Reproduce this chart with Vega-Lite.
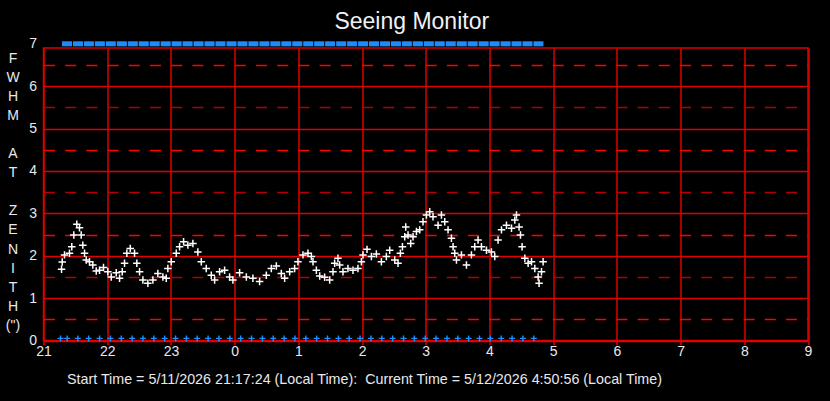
{
  "$schema": "https://vega.github.io/schema/vega-lite/v6.json",
  "autosize": {"type": "none"},
  "padding": {"left": 43.5, "top": 48, "right": 22, "bottom": 60},
  "width": 764.5,
  "height": 292.5,
  "background": "black",
  "title": {"text": "Seeing Monitor", "fontSize": 23, "font": "Liberation Sans", "fontWeight": "normal", "color": "#f0f0f4", "anchor": "middle", "frame": "group", "dx": -14, "offset": 3},
  "config": {
    "view": {"stroke": "#e00000", "strokeWidth": 1.5, "fill": "black"},
    "axis": {"labelFont": "Liberation Sans", "titleFont": "Liberation Sans", "labelColor": "#e8e8ee", "titleColor": "#e8e8ee", "labelFontSize": 14, "titleFontWeight": "normal", "ticks": false, "domain": false, "labelFlush": false, "labelOverlap": false}
  },
  "datasets": {
    "fwhm": [
      {"t":21.283,"v":1.68},{"t":21.294,"v":1.85},{"t":21.330,"v":2.02},{"t":21.408,"v":2.06},{"t":21.444,"v":2.21},{"t":21.476,"v":2.49},{"t":21.523,"v":2.74},{"t":21.565,"v":2.66},{"t":21.592,"v":2.49},{"t":21.617,"v":2.25},{"t":21.644,"v":2.06},{"t":21.671,"v":1.90},{"t":21.722,"v":1.86},{"t":21.774,"v":1.78},{"t":21.828,"v":1.64},{"t":21.880,"v":1.66},{"t":21.942,"v":1.72},{"t":22.010,"v":1.62},{"t":22.063,"v":1.50},{"t":22.142,"v":1.60},{"t":22.194,"v":1.47},{"t":22.236,"v":1.62},{"t":22.272,"v":1.82},{"t":22.308,"v":2.06},{"t":22.362,"v":2.17},{"t":22.429,"v":2.06},{"t":22.465,"v":1.82},{"t":22.508,"v":1.62},{"t":22.560,"v":1.43},{"t":22.638,"v":1.35},{"t":22.717,"v":1.43},{"t":22.795,"v":1.58},{"t":22.874,"v":1.50},{"t":22.927,"v":1.47},{"t":22.952,"v":1.70},{"t":23.006,"v":1.86},{"t":23.084,"v":2.06},{"t":23.136,"v":2.21},{"t":23.199,"v":2.33},{"t":23.266,"v":2.25},{"t":23.345,"v":2.29},{"t":23.423,"v":2.09},{"t":23.477,"v":1.86},{"t":23.555,"v":1.70},{"t":23.634,"v":1.54},{"t":23.686,"v":1.43},{"t":23.764,"v":1.62},{"t":23.843,"v":1.66},{"t":23.921,"v":1.50},{"t":23.973,"v":1.43},{"t":24.078,"v":1.60},{"t":24.184,"v":1.50},{"t":24.287,"v":1.47},{"t":24.392,"v":1.39},{"t":24.498,"v":1.54},{"t":24.576,"v":1.70},{"t":24.655,"v":1.76},{"t":24.733,"v":1.58},{"t":24.785,"v":1.47},{"t":24.864,"v":1.62},{"t":24.942,"v":1.70},{"t":24.994,"v":1.86},{"t":25.073,"v":2.02},{"t":25.151,"v":2.06},{"t":25.205,"v":1.98},{"t":25.230,"v":1.86},{"t":25.283,"v":1.66},{"t":25.335,"v":1.52},{"t":25.413,"v":1.49},{"t":25.492,"v":1.43},{"t":25.544,"v":1.62},{"t":25.570,"v":1.82},{"t":25.622,"v":1.94},{"t":25.649,"v":1.78},{"t":25.701,"v":1.62},{"t":25.779,"v":1.70},{"t":25.858,"v":1.66},{"t":25.936,"v":1.70},{"t":25.990,"v":1.86},{"t":26.015,"v":2.02},{"t":26.078,"v":2.15},{"t":26.147,"v":1.98},{"t":26.225,"v":2.04},{"t":26.304,"v":1.86},{"t":26.382,"v":1.98},{"t":26.434,"v":2.13},{"t":26.513,"v":1.90},{"t":26.565,"v":1.82},{"t":26.602,"v":2.06},{"t":26.634,"v":2.21},{"t":26.670,"v":2.45},{"t":26.686,"v":2.68},{"t":26.722,"v":2.49},{"t":26.764,"v":2.29},{"t":26.800,"v":2.45},{"t":26.854,"v":2.57},{"t":26.905,"v":2.61},{"t":26.957,"v":2.80},{"t":27.011,"v":2.96},{"t":27.063,"v":3.04},{"t":27.114,"v":2.92},{"t":27.193,"v":2.72},{"t":27.246,"v":2.96},{"t":27.298,"v":2.80},{"t":27.350,"v":2.61},{"t":27.403,"v":2.41},{"t":27.429,"v":2.21},{"t":27.455,"v":2.06},{"t":27.482,"v":1.90},{"t":27.560,"v":2.02},{"t":27.639,"v":1.78},{"t":27.717,"v":2.02},{"t":27.769,"v":2.21},{"t":27.821,"v":2.37},{"t":27.874,"v":2.21},{"t":27.953,"v":2.13},{"t":28.031,"v":2.09},{"t":28.083,"v":1.98},{"t":28.135,"v":2.37},{"t":28.189,"v":2.61},{"t":28.267,"v":2.72},{"t":28.346,"v":2.65},{"t":28.398,"v":2.84},{"t":28.424,"v":2.96},{"t":28.465,"v":2.68},{"t":28.487,"v":2.49},{"t":28.512,"v":2.21},{"t":28.555,"v":1.94},{"t":28.607,"v":1.82},{"t":28.660,"v":1.86},{"t":28.712,"v":1.70},{"t":28.764,"v":1.50},{"t":28.779,"v":1.35},{"t":28.817,"v":1.62},{"t":28.842,"v":1.86}
    ],
    "top": [
      {"t":21.369,"v":7},{"t":21.541,"v":7},{"t":21.713,"v":7},{"t":21.885,"v":7},{"t":22.057,"v":7},{"t":22.230,"v":7},{"t":22.402,"v":7},{"t":22.574,"v":7},{"t":22.746,"v":7},{"t":22.918,"v":7},{"t":23.090,"v":7},{"t":23.262,"v":7},{"t":23.434,"v":7},{"t":23.606,"v":7},{"t":23.778,"v":7},{"t":23.951,"v":7},{"t":24.123,"v":7},{"t":24.295,"v":7},{"t":24.467,"v":7},{"t":24.639,"v":7},{"t":24.811,"v":7},{"t":24.983,"v":7},{"t":25.155,"v":7},{"t":25.327,"v":7},{"t":25.499,"v":7},{"t":25.672,"v":7},{"t":25.844,"v":7},{"t":26.016,"v":7},{"t":26.188,"v":7},{"t":26.360,"v":7},{"t":26.532,"v":7},{"t":26.704,"v":7},{"t":26.876,"v":7},{"t":27.048,"v":7},{"t":27.220,"v":7},{"t":27.393,"v":7},{"t":27.565,"v":7},{"t":27.737,"v":7},{"t":27.909,"v":7},{"t":28.081,"v":7},{"t":28.253,"v":7},{"t":28.425,"v":7},{"t":28.597,"v":7},{"t":28.769,"v":7}
    ],
    "bottom": [
      {"t":21.267,"v":0.05},{"t":21.372,"v":0.05},{"t":21.539,"v":0.05},{"t":21.709,"v":0.05},{"t":21.880,"v":0.05},{"t":22.050,"v":0.05},{"t":22.221,"v":0.05},{"t":22.391,"v":0.05},{"t":22.561,"v":0.05},{"t":22.732,"v":0.05},{"t":22.902,"v":0.05},{"t":23.073,"v":0.05},{"t":23.243,"v":0.05},{"t":23.413,"v":0.05},{"t":23.584,"v":0.05},{"t":23.754,"v":0.05},{"t":23.925,"v":0.05},{"t":24.095,"v":0.05},{"t":24.265,"v":0.05},{"t":24.436,"v":0.05},{"t":24.606,"v":0.05},{"t":24.777,"v":0.05},{"t":24.947,"v":0.05},{"t":25.117,"v":0.05},{"t":25.288,"v":0.05},{"t":25.458,"v":0.05},{"t":25.629,"v":0.05},{"t":25.799,"v":0.05},{"t":25.969,"v":0.05},{"t":26.140,"v":0.05},{"t":26.310,"v":0.05},{"t":26.481,"v":0.05},{"t":26.651,"v":0.05},{"t":26.821,"v":0.05},{"t":26.992,"v":0.05},{"t":27.162,"v":0.05},{"t":27.333,"v":0.05},{"t":27.503,"v":0.05},{"t":27.673,"v":0.05},{"t":27.844,"v":0.05},{"t":28.014,"v":0.05},{"t":28.185,"v":0.05},{"t":28.355,"v":0.05},{"t":28.525,"v":0.05},{"t":28.696,"v":0.05}
    ]
  },
  "encoding": {
    "x": {
      "field": "t", "type": "quantitative",
      "scale": {"domain": [21, 33], "nice": false, "zero": false},
      "axis": {
        "values": [21,22,23,24,25,26,27,28,29,30,31,32,33],
        "labelExpr": "'' + (datum.value % 24)",
        "labelPadding": 4,
        "grid": true, "gridColor": "#e00000", "gridWidth": 1.5,
        "title": "Start Time = 5/11/2026 21:17:24 (Local Time):\u00a0 Current Time = 5/12/2026 4:50:56 (Local Time)",
        "titleFontSize": 14.3,
        "titleX": 23, "titleY": 43, "titleAlign": "left", "titleBaseline": "alphabetic"
      }
    },
    "y": {
      "field": "v", "type": "quantitative",
      "scale": {"domain": [0, 7], "range": [292.5, -4.2], "nice": false, "zero": false},
      "axis": {
        "values": [0,0.5,1,1.5,2,2.5,3,3.5,4,4.5,5,5.5,6,6.5,7],
        "labelExpr": "datum.value % 1 == 0 ? format(datum.value, 'd') : ''",
        "labelPadding": 7,
        "grid": true,
        "gridColor": {"condition": [{"test": "datum.value > 6.95", "value": "rgba(0,0,0,0)"}, {"test": "datum.value % 2 == 0.5", "value": "#ff0000"}, {"test": "datum.value % 2 == 1.5", "value": "#b40000"}], "value": "#e00000"},
        "gridDash": {"condition": {"test": "datum.value % 1 != 0", "value": [11, 10.2]}, "value": []},
        "gridWidth": {"condition": {"test": "datum.value % 1 != 0", "value": 1.3}, "value": 1.5},
        "title": ["F","W","H","M","\u200b","A","T","\u200b","Z","E","N","I","T","H","(\")"],
        "titleFontSize": 14,
        "titleAngle": 0, "titleAlign": "center", "titleBaseline": "top",
        "titleLineHeight": 19.1,
        "titleX": -31, "titleY": 3
      }
    }
  },
  "layer": [
    {
      "data": {"name": "fwhm"},
      "mark": {"type": "point", "shape": "M-1,0L1,0M0,-1L0,1", "filled": false, "stroke": "white", "strokeWidth": 1.5, "size": 56, "opacity": 1}
    },
    {
      "data": {"name": "bottom"},
      "mark": {"type": "point", "shape": "M-1,0L1,0M0,-1L0,1", "filled": false, "stroke": "#1e8fff", "strokeWidth": 1.4, "size": 36, "opacity": 1}
    },
    {
      "data": {"name": "top"},
      "mark": {"type": "point", "shape": "M-1,-0.5L1,-0.5L1,0.5L-1,0.5Z", "filled": true, "fill": "#1a8cff", "strokeWidth": 0, "size": 100, "opacity": 1}
    }
  ]
}
